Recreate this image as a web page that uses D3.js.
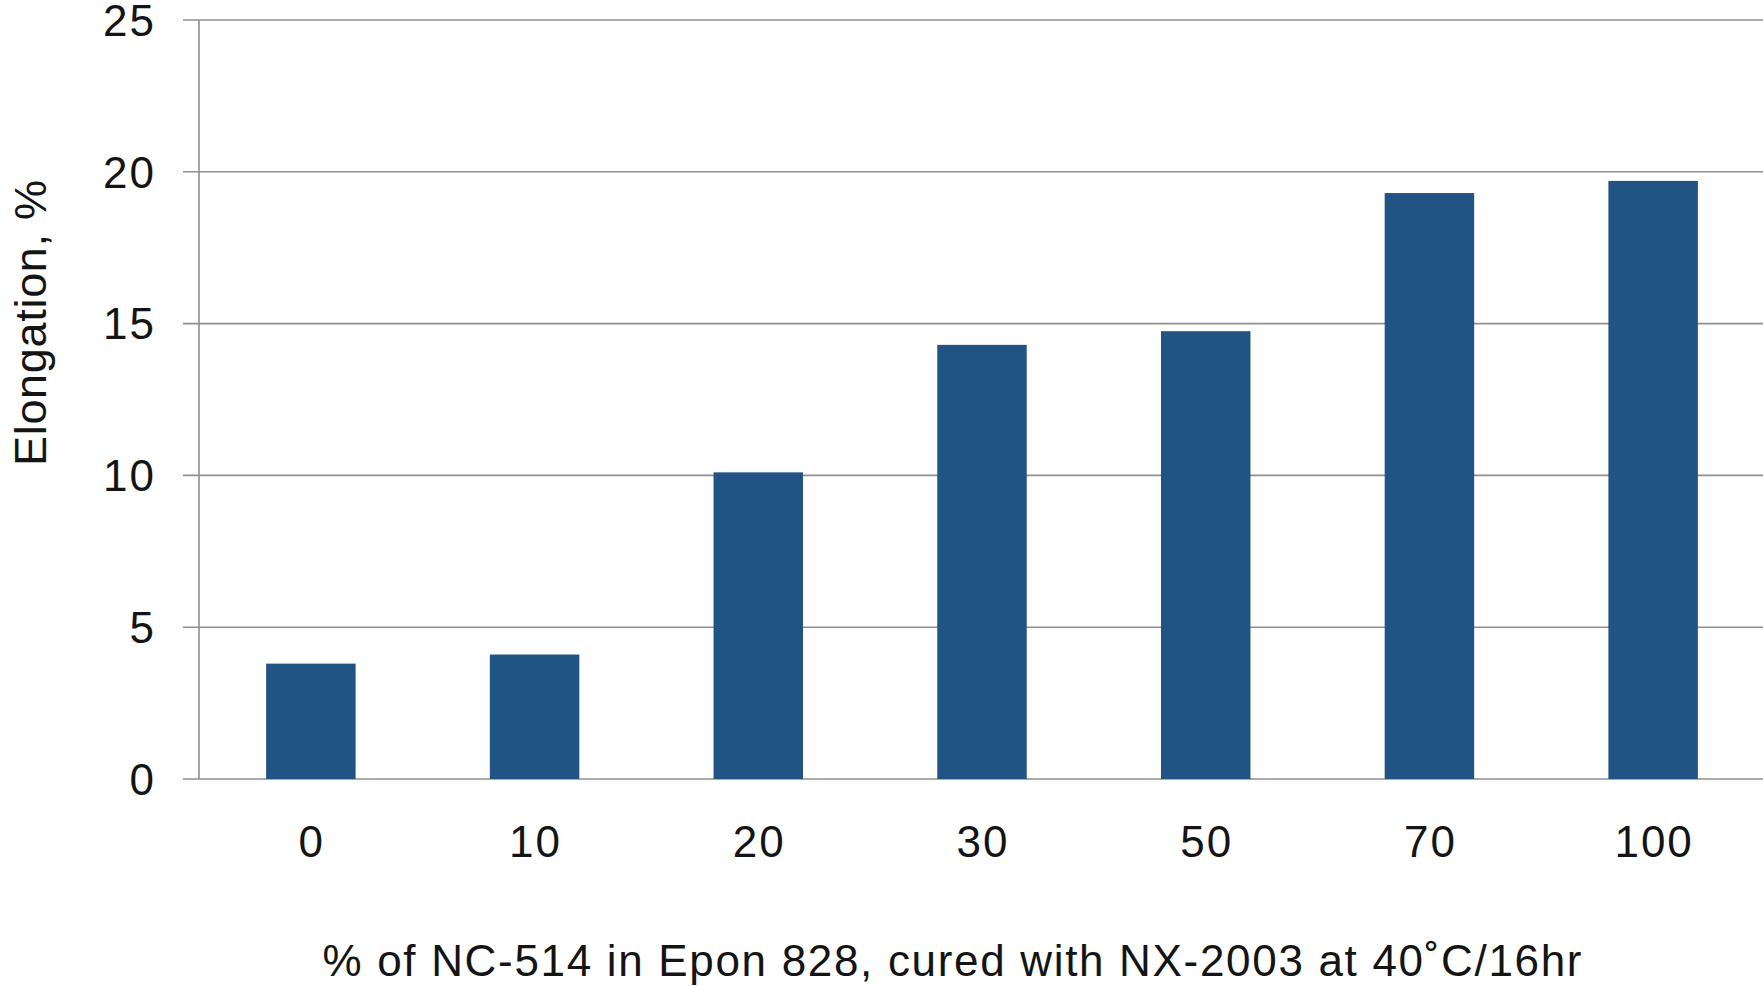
<!DOCTYPE html>
<html>
<head>
<meta charset="utf-8">
<script src="https://cdn.jsdelivr.net/npm/d3@7"></script>
<style>
  html, body { margin: 0; padding: 0; background: #fff; }
  svg { display: block; }
  text { font-family: "Helvetica Neue", "Liberation Sans", Arial, sans-serif; fill: #141414; }
</style>
</head>
<body>
<script>
const categories = ["0", "10", "20", "30", "50", "70", "100"];
const elongation = [3.8, 4.1, 10.1, 14.3, 14.75, 19.3, 19.7];
const yTicks = [0, 5, 10, 15, 20, 25];
const xTitle = "% of NC-514 in Epon 828, cured with NX-2003 at 40˚C/16hr";
const yTitle = "Elongation, %";

(function () {
const W = 1763, H = 986;
const mLeft = 199, mRight = 1765, mTop = 20, mBottom = 779;

const svg = d3.select("body").append("svg").attr("width", W).attr("height", H);

const x = d3.scaleBand().domain(categories).range([mLeft, mRight]).paddingInner(0.6).paddingOuter(0.3);
const y = d3.scaleLinear().domain([0, 25]).range([mBottom, mTop]);

// gridlines
svg.append("g").selectAll("line").data(yTicks).join("line")
  .attr("x1", mLeft - 16).attr("x2", W)
  .attr("y1", d => y(d)).attr("y2", d => y(d))
  .attr("stroke", "#8f8f8f").attr("stroke-width", 1.6);

// y axis line
svg.append("line").attr("x1", mLeft).attr("x2", mLeft).attr("y1", y(25)).attr("y2", y(0))
  .attr("stroke", "#8f8f8f").attr("stroke-width", 1.6);

// bars
svg.append("g").selectAll("rect").data(elongation).join("rect")
  .attr("x", (d, i) => x(categories[i]))
  .attr("width", x.bandwidth())
  .attr("y", d => y(d))
  .attr("height", d => y(0) - y(d))
  .attr("fill", "#215485");

// y tick labels
svg.append("g").selectAll("text").data(yTicks).join("text")
  .attr("x", 156).attr("y", d => y(d))
  .attr("dy", "0.36em")
  .attr("text-anchor", "end")
  .attr("font-size", 44)
  .attr("letter-spacing", 2)
  .text(d => d);

// x tick labels
svg.append("g").selectAll("text").data(categories).join("text")
  .attr("x", d => x(d) + x.bandwidth() / 2 + 1).attr("y", 841)
  .attr("dy", "0.36em")
  .attr("text-anchor", "middle")
  .attr("font-size", 44)
  .attr("letter-spacing", 2)
  .text(d => d);

// x title
svg.append("text").attr("x", 952).attr("y", 976)
  .attr("text-anchor", "middle").attr("font-size", 44)
  .attr("textLength", 1259).attr("lengthAdjust", "spacing")
  .text(xTitle);

// y title
svg.append("text").attr("transform", "translate(46,323) rotate(-90)")
  .attr("text-anchor", "middle").attr("font-size", 45)
  .attr("textLength", 286).attr("lengthAdjust", "spacing")
  .text(yTitle);
})();
</script>
</body>
</html>
